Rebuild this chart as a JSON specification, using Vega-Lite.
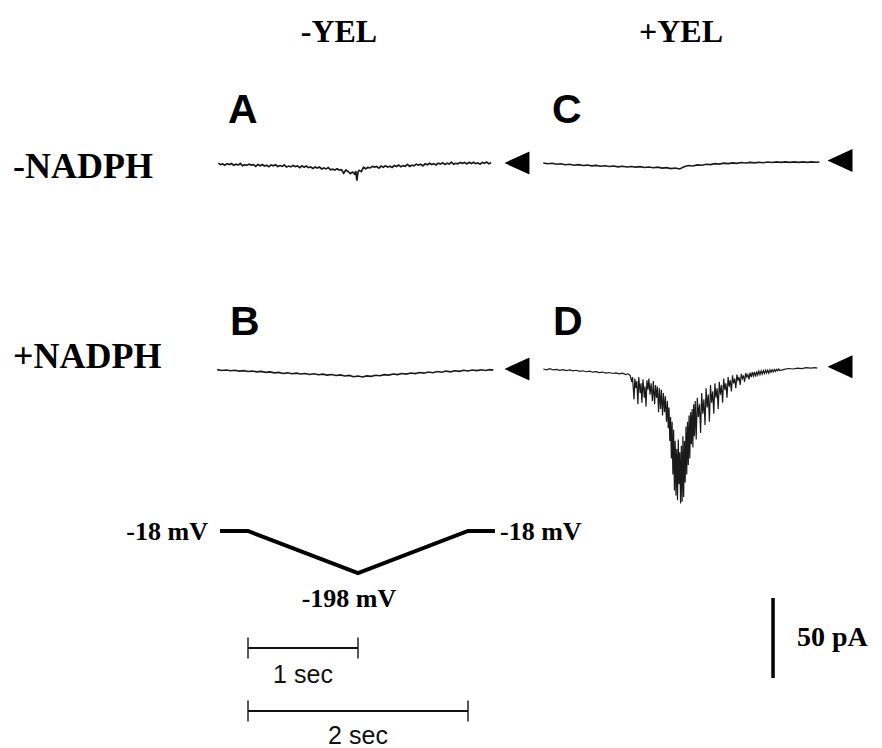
{
  "$schema": "https://vega.github.io/schema/vega-lite/v6.json",
  "padding": 0,
  "background": "white",
  "spacing": 0,
  "config": {"view": {"stroke": null}},
  "vconcat": [
    {
      "hconcat": [
        {
          "width": 535, "height": 266,
          "encoding": {
            "x": {"field": "t", "type": "quantitative", "scale": {"domain": [-2.2545, 2.6091], "nice": false, "zero": false}, "axis": null},
            "y": {"field": "i", "type": "quantitative", "scale": {"domain": [-64.375, 101.875], "nice": false, "zero": false}, "axis": null}
          },
          "layer": [
            {
              "data": {"values": [
                {"t": -0.27, "i": -0.1}, {"t": -0.25, "i": -1.0}, {"t": -0.23, "i": -0.6}, {"t": -0.21, "i": -1.4}, {"t": -0.19, "i": -0.4}, {"t": -0.17, "i": -1.0}, {"t": -0.15, "i": -0.3}, {"t": -0.13, "i": -1.4}, {"t": -0.11, "i": -0.7}, {"t": -0.09, "i": -1.3}, {"t": -0.07, "i": -0.3}, {"t": -0.05, "i": -1.7}, {"t": -0.03, "i": -1.1}, {"t": -0.01, "i": -1.5}, {"t": 0.01, "i": -0.7}, {"t": 0.03, "i": -1.3}, {"t": 0.05, "i": -1.0}, {"t": 0.07, "i": -2.1}, {"t": 0.09, "i": -1.0}, {"t": 0.11, "i": -1.7}, {"t": 0.13, "i": -0.9}, {"t": 0.15, "i": -1.9}, {"t": 0.17, "i": -1.4}, {"t": 0.19, "i": -2.3}, {"t": 0.21, "i": -1.2}, {"t": 0.23, "i": -1.8}, {"t": 0.25, "i": -1.1}, {"t": 0.27, "i": -2.2}, {"t": 0.29, "i": -1.6}, {"t": 0.31, "i": -2.1}, {"t": 0.33, "i": -1.2}, {"t": 0.35, "i": -2.5}, {"t": 0.37, "i": -1.9}, {"t": 0.39, "i": -2.4}, {"t": 0.41, "i": -1.5}, {"t": 0.43, "i": -2.2}, {"t": 0.45, "i": -1.8}, {"t": 0.47, "i": -2.9}, {"t": 0.49, "i": -1.8}, {"t": 0.51, "i": -2.6}, {"t": 0.53, "i": -1.9}, {"t": 0.55, "i": -2.9}, {"t": 0.57, "i": -2.5}, {"t": 0.59, "i": -3.4}, {"t": 0.61, "i": -2.5}, {"t": 0.63, "i": -3.2}, {"t": 0.65, "i": -2.5}, {"t": 0.67, "i": -3.7}, {"t": 0.69, "i": -3.1}, {"t": 0.71, "i": -3.7}, {"t": 0.73, "i": -2.9}, {"t": 0.75, "i": -4.3}, {"t": 0.77, "i": -3.8}, {"t": 0.79, "i": -4.4}, {"t": 0.81, "i": -3.6}, {"t": 0.83, "i": -4.4}, {"t": 0.85, "i": -4.2}, {"t": 0.87, "i": -6.4}, {"t": 0.89, "i": -4.4}, {"t": 0.91, "i": -5.3}, {"t": 0.93, "i": -6.6}, {"t": 0.95, "i": -5.7}, {"t": 0.97, "i": -6.9}, {"t": 0.98, "i": -5.0}, {"t": 0.99, "i": -11.0}, {"t": 1.0, "i": -5.6}, {"t": 1.01, "i": -4.6}, {"t": 1.03, "i": -5.4}, {"t": 1.05, "i": -2.7}, {"t": 1.07, "i": -3.6}, {"t": 1.09, "i": -2.8}, {"t": 1.11, "i": -3.1}, {"t": 1.13, "i": -2.1}, {"t": 1.15, "i": -2.6}, {"t": 1.17, "i": -2.2}, {"t": 1.19, "i": -3.2}, {"t": 1.21, "i": -1.9}, {"t": 1.23, "i": -2.6}, {"t": 1.25, "i": -1.7}, {"t": 1.27, "i": -2.6}, {"t": 1.29, "i": -2.0}, {"t": 1.31, "i": -2.8}, {"t": 1.33, "i": -1.6}, {"t": 1.35, "i": -2.2}, {"t": 1.37, "i": -1.3}, {"t": 1.39, "i": -2.3}, {"t": 1.41, "i": -1.6}, {"t": 1.43, "i": -2.0}, {"t": 1.45, "i": -0.9}, {"t": 1.47, "i": -2.1}, {"t": 1.49, "i": -1.4}, {"t": 1.51, "i": -1.7}, {"t": 1.53, "i": -0.7}, {"t": 1.55, "i": -1.3}, {"t": 1.57, "i": -0.8}, {"t": 1.59, "i": -1.8}, {"t": 1.61, "i": -0.5}, {"t": 1.63, "i": -1.1}, {"t": 1.65, "i": -0.2}, {"t": 1.67, "i": -1.0}, {"t": 1.69, "i": -0.5}, {"t": 1.71, "i": -1.2}, {"t": 1.73, "i": -0.1}, {"t": 1.75, "i": -0.7}, {"t": 1.77, "i": 0.2}, {"t": 1.79, "i": -0.9}, {"t": 1.81, "i": -0.1}, {"t": 1.83, "i": -0.6}, {"t": 1.85, "i": 0.5}, {"t": 1.87, "i": -0.8}, {"t": 1.89, "i": -0.2}, {"t": 1.91, "i": -0.5}, {"t": 1.93, "i": 0.4}, {"t": 1.95, "i": -0.2}, {"t": 1.97, "i": 0.3}, {"t": 1.99, "i": -0.6}, {"t": 2.01, "i": 0.4}, {"t": 2.03, "i": -0.3}, {"t": 2.05, "i": 0.5}, {"t": 2.07, "i": -0.4}, {"t": 2.09, "i": 0.1}, {"t": 2.11, "i": -0.7}, {"t": 2.13, "i": 0.4}, {"t": 2.15, "i": -0.2}, {"t": 2.17, "i": 0.6}, {"t": 2.19, "i": -0.5}, {"t": 2.21, "i": 0.2}
              ]},
              "mark": {"type": "line", "color": "#1a1a1a", "strokeWidth": 1.7}
            },
            {
              "data": {"values": [{"t": 2.445, "i": 0}]},
              "mark": {"type": "point", "shape": "M1,-0.92L-1,0L1,0.92Z", "filled": true, "color": "#000000", "opacity": 1, "size": 625}
            },
            {
              "data": {"values": [{"t": 0.827, "i": 75.6, "label": "-YEL"}]},
              "mark": {"type": "text", "font": "Liberation Serif", "fontWeight": "bold", "fontSize": 32, "align": "center", "baseline": "alphabetic", "color": "#000000"},
              "encoding": {"text": {"field": "label"}}
            },
            {
              "data": {"values": [{"t": -2.136, "i": -9.4, "label": "-NADPH"}]},
              "mark": {"type": "text", "font": "Liberation Serif", "fontWeight": "bold", "fontSize": 36, "align": "left", "baseline": "alphabetic", "color": "#000000"},
              "encoding": {"text": {"field": "label"}}
            },
            {
              "data": {"values": [{"t": -0.182, "i": 25, "label": "A"}]},
              "mark": {"type": "text", "font": "Liberation Sans", "fontWeight": "bold", "fontSize": 41, "align": "left", "baseline": "alphabetic", "color": "#000000"},
              "encoding": {"text": {"field": "label"}}
            }
          ]
        },
        {
          "width": 347, "height": 266,
          "encoding": {
            "x": {"field": "t", "type": "quantitative", "scale": {"domain": [-0.34545, 2.80909], "nice": false, "zero": false}, "axis": null},
            "y": {"field": "i", "type": "quantitative", "scale": {"domain": [-64.375, 101.875], "nice": false, "zero": false}, "axis": null}
          },
          "layer": [
            {
              "data": {"values": [
                {"t": -0.27, "i": 0.0}, {"t": -0.23, "i": -0.5}, {"t": -0.19, "i": -0.2}, {"t": -0.15, "i": -0.8}, {"t": -0.11, "i": -0.5}, {"t": -0.07, "i": -1.1}, {"t": -0.03, "i": -0.8}, {"t": 0.01, "i": -1.4}, {"t": 0.05, "i": -1.0}, {"t": 0.09, "i": -1.6}, {"t": 0.13, "i": -1.3}, {"t": 0.17, "i": -1.8}, {"t": 0.21, "i": -1.5}, {"t": 0.25, "i": -2.0}, {"t": 0.29, "i": -1.7}, {"t": 0.33, "i": -2.2}, {"t": 0.37, "i": -1.9}, {"t": 0.41, "i": -2.4}, {"t": 0.45, "i": -2.0}, {"t": 0.49, "i": -2.5}, {"t": 0.53, "i": -2.2}, {"t": 0.57, "i": -2.6}, {"t": 0.61, "i": -2.3}, {"t": 0.65, "i": -2.8}, {"t": 0.69, "i": -2.5}, {"t": 0.73, "i": -3.0}, {"t": 0.77, "i": -2.6}, {"t": 0.81, "i": -3.2}, {"t": 0.85, "i": -2.9}, {"t": 0.89, "i": -3.5}, {"t": 0.93, "i": -3.1}, {"t": 0.97, "i": -3.7}, {"t": 1.01, "i": -2.4}, {"t": 1.05, "i": -1.6}, {"t": 1.09, "i": -1.9}, {"t": 1.13, "i": -1.2}, {"t": 1.17, "i": -1.4}, {"t": 1.21, "i": -0.8}, {"t": 1.25, "i": -1.0}, {"t": 1.29, "i": -0.4}, {"t": 1.33, "i": -0.7}, {"t": 1.37, "i": -0.1}, {"t": 1.41, "i": -0.4}, {"t": 1.45, "i": 0.1}, {"t": 1.49, "i": -0.2}, {"t": 1.53, "i": 0.3}, {"t": 1.57, "i": 0.0}, {"t": 1.61, "i": 0.4}, {"t": 1.65, "i": 0.1}, {"t": 1.69, "i": 0.5}, {"t": 1.73, "i": 0.2}, {"t": 1.77, "i": 0.6}, {"t": 1.81, "i": 0.3}, {"t": 1.85, "i": 0.7}, {"t": 1.89, "i": 0.4}, {"t": 1.93, "i": 0.7}, {"t": 1.97, "i": 0.4}, {"t": 2.01, "i": 0.7}, {"t": 2.05, "i": 0.4}, {"t": 2.09, "i": 0.7}, {"t": 2.13, "i": 0.4}, {"t": 2.17, "i": 0.7}, {"t": 2.21, "i": 0.5}, {"t": 2.24, "i": 0.6}
              ]},
              "mark": {"type": "line", "color": "#1a1a1a", "strokeWidth": 1.6}
            },
            {
              "data": {"values": [{"t": 2.427, "i": 1.5}]},
              "mark": {"type": "point", "shape": "M1,-0.92L-1,0L1,0.92Z", "filled": true, "color": "#000000", "opacity": 1, "size": 625}
            },
            {
              "data": {"values": [{"t": 0.982, "i": 75.6, "label": "+YEL"}]},
              "mark": {"type": "text", "font": "Liberation Serif", "fontWeight": "bold", "fontSize": 32, "align": "center", "baseline": "alphabetic", "color": "#000000"},
              "encoding": {"text": {"field": "label"}}
            },
            {
              "data": {"values": [{"t": -0.191, "i": 25, "label": "C"}]},
              "mark": {"type": "text", "font": "Liberation Sans", "fontWeight": "bold", "fontSize": 41, "align": "left", "baseline": "alphabetic", "color": "#000000"},
              "encoding": {"text": {"field": "label"}}
            }
          ]
        }
      ],
      "spacing": 0
    },
    {
      "hconcat": [
        {
          "width": 535, "height": 244,
          "encoding": {
            "x": {"field": "t", "type": "quantitative", "scale": {"domain": [-2.2545, 2.6091], "nice": false, "zero": false}, "axis": null},
            "y": {"field": "i", "type": "quantitative", "scale": {"domain": [-88.125, 64.375], "nice": false, "zero": false}, "axis": null}
          },
          "layer": [
            {
              "data": {"values": [
                {"t": -0.28, "i": -0.4}, {"t": -0.24, "i": -0.9}, {"t": -0.2, "i": -0.6}, {"t": -0.16, "i": -1.1}, {"t": -0.12, "i": -0.8}, {"t": -0.08, "i": -1.3}, {"t": -0.04, "i": -1.0}, {"t": 0.0, "i": -1.6}, {"t": 0.04, "i": -1.3}, {"t": 0.08, "i": -1.8}, {"t": 0.12, "i": -1.5}, {"t": 0.16, "i": -2.1}, {"t": 0.2, "i": -1.8}, {"t": 0.24, "i": -2.4}, {"t": 0.28, "i": -2.1}, {"t": 0.32, "i": -2.8}, {"t": 0.36, "i": -2.4}, {"t": 0.4, "i": -3.0}, {"t": 0.44, "i": -2.6}, {"t": 0.48, "i": -3.1}, {"t": 0.52, "i": -2.8}, {"t": 0.56, "i": -3.4}, {"t": 0.6, "i": -3.0}, {"t": 0.64, "i": -3.6}, {"t": 0.68, "i": -3.2}, {"t": 0.72, "i": -3.8}, {"t": 0.76, "i": -3.4}, {"t": 0.8, "i": -4.1}, {"t": 0.84, "i": -3.7}, {"t": 0.88, "i": -4.4}, {"t": 0.92, "i": -4.0}, {"t": 0.96, "i": -4.8}, {"t": 1.0, "i": -4.4}, {"t": 1.04, "i": -5.0}, {"t": 1.08, "i": -4.3}, {"t": 1.12, "i": -4.6}, {"t": 1.16, "i": -3.9}, {"t": 1.2, "i": -4.2}, {"t": 1.24, "i": -3.5}, {"t": 1.28, "i": -3.8}, {"t": 1.32, "i": -3.1}, {"t": 1.36, "i": -3.5}, {"t": 1.4, "i": -2.8}, {"t": 1.44, "i": -3.2}, {"t": 1.48, "i": -2.5}, {"t": 1.52, "i": -2.9}, {"t": 1.56, "i": -2.2}, {"t": 1.6, "i": -2.6}, {"t": 1.64, "i": -1.9}, {"t": 1.68, "i": -2.3}, {"t": 1.72, "i": -1.6}, {"t": 1.76, "i": -2.0}, {"t": 1.8, "i": -1.3}, {"t": 1.84, "i": -1.8}, {"t": 1.88, "i": -1.1}, {"t": 1.92, "i": -1.5}, {"t": 1.96, "i": -0.8}, {"t": 2.0, "i": -1.2}, {"t": 2.04, "i": -0.6}, {"t": 2.08, "i": -1.0}, {"t": 2.12, "i": -0.5}, {"t": 2.16, "i": -0.9}, {"t": 2.2, "i": -0.4}, {"t": 2.23, "i": -0.7}
              ]},
              "mark": {"type": "line", "color": "#1a1a1a", "strokeWidth": 1.6}
            },
            {
              "data": {"values": [{"t": 2.445, "i": 0}]},
              "mark": {"type": "point", "shape": "M1,-0.92L-1,0L1,0.92Z", "filled": true, "color": "#000000", "opacity": 1, "size": 625}
            },
            {
              "data": {"values": [{"t": -2.136, "i": 0.6, "label": "+NADPH"}]},
              "mark": {"type": "text", "font": "Liberation Serif", "fontWeight": "bold", "fontSize": 36, "align": "left", "baseline": "alphabetic", "color": "#000000"},
              "encoding": {"text": {"field": "label"}}
            },
            {
              "data": {"values": [{"t": -0.164, "i": 21.25, "label": "B"}]},
              "mark": {"type": "text", "font": "Liberation Sans", "fontWeight": "bold", "fontSize": 41, "align": "left", "baseline": "alphabetic", "color": "#000000"},
              "encoding": {"text": {"field": "label"}}
            }
          ]
        },
        {
          "width": 347, "height": 244,
          "encoding": {
            "x": {"field": "t", "type": "quantitative", "scale": {"domain": [-0.34545, 2.80909], "nice": false, "zero": false}, "axis": null},
            "y": {"field": "i", "type": "quantitative", "scale": {"domain": [-88.125, 64.375], "nice": false, "zero": false}, "axis": null}
          },
          "layer": [
            {
              "data": {"values": [
                {"t": -0.27, "i": 0.0}, {"t": -0.24, "i": -0.5}, {"t": -0.21, "i": 0.2}, {"t": -0.18, "i": -0.6}, {"t": -0.15, "i": -0.3}, {"t": -0.12, "i": -0.9}, {"t": -0.09, "i": -0.4}, {"t": -0.06, "i": -1.0}, {"t": -0.03, "i": -0.6}, {"t": 0.0, "i": -1.2}, {"t": 0.03, "i": -0.8}, {"t": 0.06, "i": -1.5}, {"t": 0.09, "i": -1.1}, {"t": 0.12, "i": -1.7}, {"t": 0.15, "i": -1.3}, {"t": 0.18, "i": -2.0}, {"t": 0.21, "i": -1.6}, {"t": 0.24, "i": -2.3}, {"t": 0.27, "i": -1.9}, {"t": 0.3, "i": -2.6}, {"t": 0.33, "i": -2.2}, {"t": 0.36, "i": -2.8}, {"t": 0.39, "i": -2.4}, {"t": 0.42, "i": -3.0}, {"t": 0.45, "i": -2.6}, {"t": 0.48, "i": -3.5}, {"t": 0.5, "i": -3.0},
                {"t": 0.52, "i": -4.0}, {"t": 0.534, "i": -8.0}, {"t": 0.541, "i": -5.0}, {"t": 0.555, "i": -19.0}, {"t": 0.562, "i": -6.0}, {"t": 0.572, "i": -12.0}, {"t": 0.58, "i": -7.5}, {"t": 0.59, "i": -22.0}, {"t": 0.598, "i": -5.0}, {"t": 0.61, "i": -15.0}, {"t": 0.618, "i": -9.0}, {"t": 0.626, "i": -21.0}, {"t": 0.636, "i": -6.5}, {"t": 0.648, "i": -18.0}, {"t": 0.655, "i": -11.0}, {"t": 0.664, "i": -23.5}, {"t": 0.672, "i": -7.0}, {"t": 0.682, "i": -13.0}, {"t": 0.69, "i": -6.0}, {"t": 0.7, "i": -16.0}, {"t": 0.71, "i": -9.0}, {"t": 0.722, "i": -20.0}, {"t": 0.73, "i": -7.5}, {"t": 0.742, "i": -22.0}, {"t": 0.75, "i": -10.0}, {"t": 0.76, "i": -18.0}, {"t": 0.768, "i": -11.0}, {"t": 0.778, "i": -27.0}, {"t": 0.786, "i": -12.0}, {"t": 0.796, "i": -25.0}, {"t": 0.804, "i": -13.0}, {"t": 0.814, "i": -29.0}, {"t": 0.822, "i": -15.0}, {"t": 0.832, "i": -27.0}, {"t": 0.84, "i": -17.0}, {"t": 0.85, "i": -33.0}, {"t": 0.858, "i": -20.0}, {"t": 0.866, "i": -37.0}, {"t": 0.873, "i": -24.0}, {"t": 0.88, "i": -45.0}, {"t": 0.887, "i": -30.0}, {"t": 0.894, "i": -56.0}, {"t": 0.901, "i": -33.0}, {"t": 0.908, "i": -66.0}, {"t": 0.915, "i": -38.0}, {"t": 0.922, "i": -76.0}, {"t": 0.929, "i": -45.0}, {"t": 0.936, "i": -79.0}, {"t": 0.943, "i": -50.0}, {"t": 0.95, "i": -82.0}, {"t": 0.957, "i": -44.0}, {"t": 0.964, "i": -72.0}, {"t": 0.971, "i": -52.0}, {"t": 0.978, "i": -84.0}, {"t": 0.985, "i": -48.0}, {"t": 0.992, "i": -83.0}, {"t": 0.999, "i": -42.0}, {"t": 1.006, "i": -80.0}, {"t": 1.013, "i": -45.0}, {"t": 1.02, "i": -71.0}, {"t": 1.027, "i": -36.0}, {"t": 1.034, "i": -66.0}, {"t": 1.041, "i": -33.0}, {"t": 1.048, "i": -60.0}, {"t": 1.055, "i": -29.0}, {"t": 1.062, "i": -56.0}, {"t": 1.069, "i": -27.0}, {"t": 1.076, "i": -47.0}, {"t": 1.083, "i": -25.0}, {"t": 1.09, "i": -49.0}, {"t": 1.097, "i": -22.0}, {"t": 1.104, "i": -42.0}, {"t": 1.111, "i": -20.0}, {"t": 1.12, "i": -44.0}, {"t": 1.13, "i": -18.0}, {"t": 1.14, "i": -30.0}, {"t": 1.15, "i": -22.0}, {"t": 1.16, "i": -40.0}, {"t": 1.17, "i": -15.0}, {"t": 1.18, "i": -28.0}, {"t": 1.19, "i": -19.0}, {"t": 1.2, "i": -35.0}, {"t": 1.21, "i": -12.0}, {"t": 1.22, "i": -24.0}, {"t": 1.23, "i": -16.0}, {"t": 1.24, "i": -33.0}, {"t": 1.25, "i": -10.0}, {"t": 1.26, "i": -21.0}, {"t": 1.27, "i": -14.0}, {"t": 1.28, "i": -28.0}, {"t": 1.29, "i": -9.0}, {"t": 1.3, "i": -18.0}, {"t": 1.31, "i": -12.0}, {"t": 1.32, "i": -25.0}, {"t": 1.33, "i": -8.0}, {"t": 1.34, "i": -16.0}, {"t": 1.35, "i": -10.0}, {"t": 1.36, "i": -21.0}, {"t": 1.37, "i": -6.0}, {"t": 1.38, "i": -13.0}, {"t": 1.39, "i": -9.0}, {"t": 1.4, "i": -18.0}, {"t": 1.41, "i": -5.0}, {"t": 1.42, "i": -11.0}, {"t": 1.43, "i": -7.0}, {"t": 1.44, "i": -14.0}, {"t": 1.45, "i": -4.0}, {"t": 1.46, "i": -9.0}, {"t": 1.47, "i": -6.0}, {"t": 1.48, "i": -12.0}, {"t": 1.49, "i": -3.5}, {"t": 1.5, "i": -7.0}, {"t": 1.51, "i": -5.0}, {"t": 1.52, "i": -10.0}, {"t": 1.53, "i": -3.0}, {"t": 1.54, "i": -6.0}, {"t": 1.55, "i": -4.0}, {"t": 1.56, "i": -8.0}, {"t": 1.57, "i": -2.5}, {"t": 1.58, "i": -5.0}, {"t": 1.59, "i": -3.5}, {"t": 1.6, "i": -6.5}, {"t": 1.61, "i": -2.2}, {"t": 1.62, "i": -5.0}, {"t": 1.63, "i": -2.0}, {"t": 1.64, "i": -4.5}, {"t": 1.65, "i": -1.8}, {"t": 1.66, "i": -4.8}, {"t": 1.67, "i": -1.5}, {"t": 1.68, "i": -3.8}, {"t": 1.69, "i": -1.3}, {"t": 1.7, "i": -3.5}, {"t": 1.71, "i": -1.2}, {"t": 1.72, "i": -3.2}, {"t": 1.73, "i": -1.0}, {"t": 1.74, "i": -2.8}, {"t": 1.75, "i": -0.8}, {"t": 1.76, "i": -2.5}, {"t": 1.77, "i": -0.7}, {"t": 1.78, "i": -2.6}, {"t": 1.79, "i": -0.5}, {"t": 1.8, "i": -2.0}, {"t": 1.81, "i": -0.4}, {"t": 1.82, "i": -1.8}, {"t": 1.83, "i": -0.3}, {"t": 1.84, "i": -1.5}, {"t": 1.85, "i": -0.2}, {"t": 1.86, "i": -1.2}, {"t": 1.87, "i": 0.0}, {"t": 1.88, "i": -1.0},
                {"t": 1.92, "i": -0.2}, {"t": 1.96, "i": 0.3}, {"t": 2.0, "i": 0.0}, {"t": 2.04, "i": 0.6}, {"t": 2.08, "i": 0.3}, {"t": 2.12, "i": 0.8}, {"t": 2.16, "i": 0.5}, {"t": 2.2, "i": 0.9}, {"t": 2.22, "i": 0.6}
              ]},
              "mark": {"type": "line", "color": "#1a1a1a", "strokeWidth": 1.2}
            },
            {
              "data": {"values": [{"t": 2.427, "i": 1.4}]},
              "mark": {"type": "point", "shape": "M1,-0.92L-1,0L1,0.92Z", "filled": true, "color": "#000000", "opacity": 1, "size": 625}
            },
            {
              "data": {"values": [{"t": -0.182, "i": 21.25, "label": "D"}]},
              "mark": {"type": "text", "font": "Liberation Sans", "fontWeight": "bold", "fontSize": 41, "align": "left", "baseline": "alphabetic", "color": "#000000"},
              "encoding": {"text": {"field": "label"}}
            }
          ]
        }
      ],
      "spacing": 0
    },
    {
      "width": 882, "height": 238,
      "resolve": {"scale": {"y": "independent"}},
      "layer": [
        {
          "encoding": {
            "x": {"field": "t", "type": "quantitative", "scale": {"domain": [-2.2545, 5.7636], "nice": false, "zero": false}, "axis": null},
            "y": {"field": "v", "type": "quantitative", "scale": {"domain": [-948, 72], "nice": false, "zero": false}, "axis": null}
          },
          "layer": [
            {
              "data": {"values": [
                {"t": -0.2545, "v": -18}, {"t": 0, "v": -18}, {"t": 1, "v": -198}, {"t": 2, "v": -18}, {"t": 2.245, "v": -18}
              ]},
              "mark": {"type": "line", "color": "#000000", "strokeWidth": 4}
            },
            {
              "data": {"values": [{"t": -0.364, "v": -56.6, "label": "-18 mV"}]},
              "mark": {"type": "text", "font": "Liberation Serif", "fontWeight": "bold", "fontSize": 26, "align": "right", "baseline": "alphabetic", "color": "#000000"},
              "encoding": {"text": {"field": "label"}}
            },
            {
              "data": {"values": [{"t": 2.291, "v": -56.6, "label": "-18 mV"}]},
              "mark": {"type": "text", "font": "Liberation Serif", "fontWeight": "bold", "fontSize": 26, "align": "left", "baseline": "alphabetic", "color": "#000000"},
              "encoding": {"text": {"field": "label"}}
            },
            {
              "data": {"values": [{"t": 0.918, "v": -343.7, "label": "-198 mV"}]},
              "mark": {"type": "text", "font": "Liberation Serif", "fontWeight": "bold", "fontSize": 26, "align": "center", "baseline": "alphabetic", "color": "#000000"},
              "encoding": {"text": {"field": "label"}}
            }
          ]
        },
        {
          "encoding": {
            "x": {"field": "t", "type": "quantitative", "scale": {"domain": [-2.2545, 5.7636], "nice": false, "zero": false}, "axis": null},
            "y": {"field": "i", "type": "quantitative", "scale": {"domain": [-43.75, 105], "nice": false, "zero": false}, "axis": null}
          },
          "layer": [
            {
              "data": {"values": [
                {"bar": "1 sec", "t0": 0, "t1": 1, "i": 18.75},
                {"bar": "2 sec", "t0": 0, "t1": 2, "i": -20.6}
              ]},
              "mark": {"type": "rule", "color": "#111111", "strokeWidth": 2},
              "encoding": {"x": {"field": "t0", "type": "quantitative"}, "x2": {"field": "t1"}}
            },
            {
              "data": {"values": [
                {"bar": "1 sec", "t0": 0, "t1": 1, "i": 18.75},
                {"bar": "2 sec", "t0": 0, "t1": 2, "i": -20.6}
              ]},
              "transform": [{"fold": ["t0", "t1"], "as": ["end", "t"]}],
              "mark": {"type": "tick", "orient": "vertical", "color": "#111111", "size": 21, "thickness": 2}
            },
            {
              "data": {"values": [{"t": 4.773, "i": 0, "i2": 50}]},
              "mark": {"type": "rule", "color": "#000000", "strokeWidth": 3.5},
              "encoding": {"y2": {"field": "i2"}}
            },
            {
              "data": {"values": [{"t": 0.5, "i": -3.1, "label": "1 sec"}, {"t": 1.0, "i": -41.0, "label": "2 sec"}]},
              "mark": {"type": "text", "font": "Liberation Sans", "fontSize": 25, "align": "center", "baseline": "alphabetic", "color": "#111111"},
              "encoding": {"text": {"field": "label"}}
            },
            {
              "data": {"values": [{"t": 4.991, "i": 20, "label": "50 pA"}]},
              "mark": {"type": "text", "font": "Liberation Serif", "fontWeight": "bold", "fontSize": 28, "align": "left", "baseline": "alphabetic", "color": "#000000"},
              "encoding": {"text": {"field": "label"}}
            }
          ]
        }
      ]
    }
  ]
}
